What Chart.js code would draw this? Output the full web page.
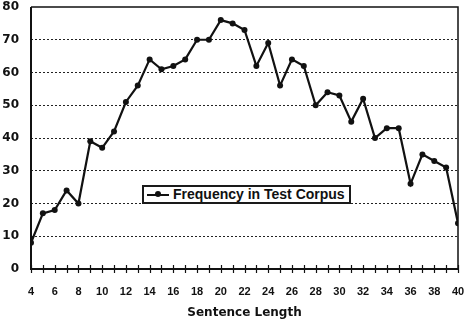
<!DOCTYPE html>
<html>
<head>
<meta charset="utf-8">
<script src="https://cdn.jsdelivr.net/npm/chart.js@4/dist/chart.umd.min.js"></script>
<style>
  html, body { margin: 0; padding: 0; background: #fff; }
  #wrap { position: relative; width: 466px; height: 320px; }
  #legend {
    position: absolute; left: 142px; top: 185px; width: 205px; height: 15px;
    border: 2px solid #1a1a1a; background: #fff;
    font: bold 14px "Liberation Sans", Arial, sans-serif; color: #111;
    display: flex; align-items: center; line-height: 15px;
  }
  #legend .swatch { position: relative; width: 22px; height: 2px; background: #111; margin: 0 4px 0 3px; }
  #legend .swatch i { position: absolute; left: 8px; top: -2.5px; width: 6px; height: 6px; border-radius: 50%; background: #111; }
</style>
</head>
<body>
<div id="wrap">
  <canvas id="chart" width="466" height="320"></canvas>
  <div id="legend"><span class="swatch"><i></i></span><span id="legend-text"></span></div>
</div>
<script>
const sentenceLength = [4, 5, 6, 7, 8, 9, 10, 11, 12, 13, 14, 15, 16, 17, 18, 19, 20, 21, 22,
  23, 24, 25, 26, 27, 28, 29, 30, 31, 32, 33, 34, 35, 36, 37, 38, 39, 40];
const frequency = [8, 17, 18, 24, 20, 39, 37, 42, 51, 56, 64, 61, 62, 64, 70, 70, 76, 75, 73,
  62, 69, 56, 64, 62, 50, 54, 53, 45, 52, 40, 43, 43, 26, 35, 33, 31, 14];
const yTicks = [0, 10, 20, 30, 40, 50, 60, 70, 80];
const seriesLabel = "Frequency in Test Corpus";
const xTitle = "Sentence Length";

const ink = "#111";

// frame lines and the small tick crosses on the x axis
const framePlugin = {
  id: "frame",
  beforeDatasetsDraw(chart) {
    const { ctx, chartArea: { left, right, top, bottom } } = chart;
    const xs = chart.scales.x;
    ctx.save();
    ctx.strokeStyle = ink;
    ctx.lineWidth = 1.5;
    ctx.beginPath();
    ctx.moveTo(left, top);
    ctx.lineTo(right, top);
    ctx.lineTo(right, bottom);
    ctx.stroke();
    ctx.lineWidth = 2;
    ctx.beginPath();
    ctx.moveTo(left, top);
    ctx.lineTo(left, bottom);
    ctx.lineTo(right, bottom);
    ctx.stroke();
    ctx.lineWidth = 1.2;
    sentenceLength.forEach((v) => {
      const px = Math.round(xs.getPixelForValue(v)) + 0.5;
      ctx.beginPath();
      ctx.moveTo(px, bottom - 4);
      ctx.lineTo(px, bottom + 4);
      ctx.stroke();
    });
    ctx.restore();
  },
};

document.getElementById("legend-text").textContent = seriesLabel;

new Chart(document.getElementById("chart").getContext("2d"), {
  type: "line",
  plugins: [framePlugin],
  data: {
    datasets: [
      {
        label: seriesLabel,
        data: sentenceLength.map((x, i) => ({ x: x, y: frequency[i] })),
        borderColor: ink,
        backgroundColor: ink,
        borderWidth: 2.2,
        pointRadius: 3,
        pointBackgroundColor: ink,
        pointBorderWidth: 0,
        tension: 0,
      },
    ],
  },
  options: {
    responsive: false,
    animation: false,
    layout: { padding: { top: 7, right: 8, left: 0, bottom: 0 } },
    plugins: { legend: { display: false }, tooltip: { enabled: false } },
    scales: {
      x: {
        type: "linear",
        min: 4,
        max: 40,
        afterFit: (scale) => {
          scale.height = 51;
          scale.paddingLeft = 0;
          scale.paddingRight = 0;
        },
        afterBuildTicks: (scale) => { scale.ticks = sentenceLength.map((v) => ({ value: v })); },
        grid: { display: false },
        border: { display: false },
        ticks: {
          color: ink,
          font: { family: "'Liberation Sans', Arial, sans-serif", size: 11, weight: "bold" },
          padding: 8,
          autoSkip: false,
          maxRotation: 0,
          callback: (v) => (v % 2 === 0 ? String(v) : ""),
        },
        title: {
          display: true,
          text: xTitle,
          color: ink,
          font: { family: "'DejaVu Sans', sans-serif", size: 12, weight: "bold" },
          padding: { top: 15, bottom: 0 },
        },
      },
      y: {
        min: 0,
        max: 80,
        afterFit: (scale) => {
          scale.width = 31;
          scale.paddingTop = 0;
          scale.paddingBottom = 0;
        },
        afterBuildTicks: (scale) => { scale.ticks = yTicks.map((v) => ({ value: v })); },
        grid: {
          drawTicks: false,
          lineWidth: 1,
          color: (c) => (c.tick && (c.tick.value === 0 || c.tick.value === 80) ? "rgba(0,0,0,0)" : "#222"),
        },
        border: { display: false, dash: [2, 2] },
        ticks: {
          color: ink,
          font: { family: "'DejaVu Sans', sans-serif", size: 12, weight: "bold" },
          padding: 12,
        },
      },
    },
  },
});
</script>
</body>
</html>
